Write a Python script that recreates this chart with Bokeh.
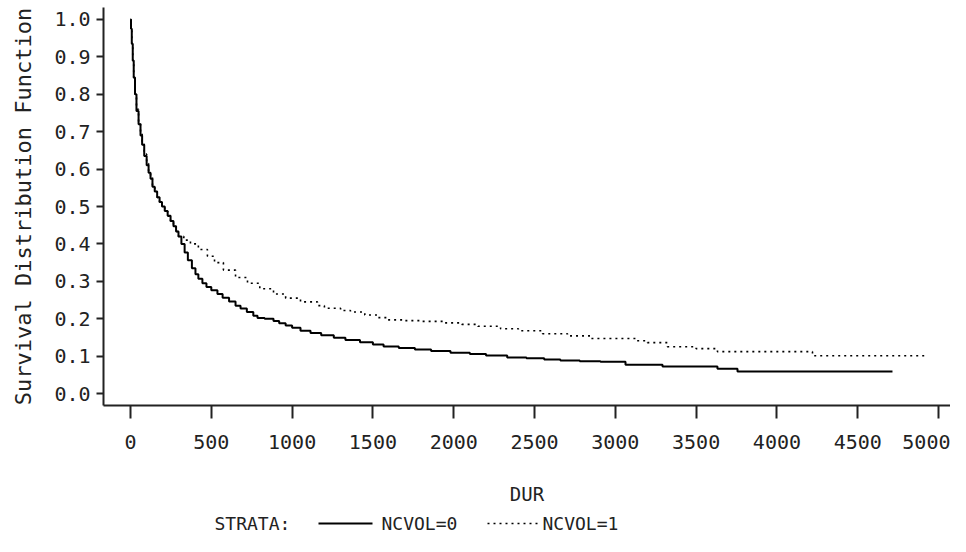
from bokeh.plotting import figure
from bokeh.models import Range1d, FixedTicker, PrintfTickFormatter, ColumnDataSource
from bokeh.layouts import column
from bokeh.core.properties import value
from bokeh.embed import file_html
from bokeh.resources import INLINE

# ---- data ----
dur0 = [0, 3, 8, 14, 20, 28, 37, 50, 62, 72,
        85, 100, 112, 124, 136, 150, 165, 180, 195, 212,
        230, 248, 266, 282, 297, 315, 335, 355, 380, 402,
        420, 445, 470, 500, 538, 570, 610, 650, 681, 720,
        760, 786, 830, 885, 920, 960, 1000, 1052, 1114, 1180,
        1258, 1330, 1420, 1500, 1566, 1660, 1760, 1860, 1980, 2100,
        2200, 2331, 2450, 2560, 2660, 2780, 2908, 3063, 3292, 3632,
        3756, 4715]
surv0 = [1.0, 0.975, 0.935, 0.89, 0.845, 0.80, 0.755, 0.72, 0.69, 0.665,
         0.635, 0.61, 0.59, 0.574, 0.553, 0.54, 0.525, 0.512, 0.50, 0.488,
         0.475, 0.461, 0.447, 0.433, 0.42, 0.40, 0.377, 0.356, 0.335, 0.319,
         0.307, 0.295, 0.285, 0.276, 0.266, 0.256, 0.246, 0.235, 0.227, 0.218,
         0.208, 0.202, 0.2, 0.194, 0.188, 0.182, 0.176, 0.168, 0.162, 0.156,
         0.149, 0.143, 0.137, 0.131, 0.126, 0.122, 0.118, 0.114, 0.109, 0.106,
         0.102, 0.096, 0.094, 0.091, 0.088, 0.086, 0.085, 0.077, 0.072, 0.066,
         0.059, 0.059]

dur1 = [0, 3, 8, 14, 20, 28, 37, 50, 62, 72,
        85, 100, 112, 124, 136, 150, 165, 180, 195, 212,
        230, 248, 266, 282, 297, 330, 371, 420, 476, 520,
        575, 650, 724, 800, 885, 960, 1052, 1157, 1200, 1300,
        1361, 1450, 1530, 1590, 1700, 1800, 1937, 2050, 2150, 2290,
        2400, 2550, 2704, 2850, 3125, 3199, 3322, 3500, 3632, 4220,
        4920]
surv1 = [1.0, 0.97, 0.93, 0.885, 0.84, 0.80, 0.76, 0.725, 0.695, 0.67,
         0.64, 0.615, 0.595, 0.578, 0.556, 0.54, 0.524, 0.511, 0.50, 0.487,
         0.474, 0.46, 0.447, 0.433, 0.42, 0.41, 0.40, 0.385, 0.367, 0.35,
         0.33, 0.31, 0.295, 0.28, 0.266, 0.255, 0.245, 0.235, 0.228, 0.222,
         0.218, 0.21, 0.203, 0.197, 0.195, 0.193, 0.189, 0.185, 0.18, 0.173,
         0.168, 0.16, 0.154, 0.147, 0.141, 0.136, 0.125, 0.12, 0.112, 0.101,
         0.101]

x_ticks = [0, 500, 1000, 1500, 2000, 2500, 3000, 3500, 4000, 4500, 5000]
y_ticks = [0.0, 0.1, 0.2, 0.3, 0.4, 0.5, 0.6, 0.7, 0.8, 0.9, 1.0]
strata_names = ["NCVOL=0", "NCVOL=1"]
strata_title = "STRATA:"
x_title = "DUR"
y_title = "Survival Distribution Function"

FONT = "DejaVu Sans Mono"
INK = "#222222"

# ---- main plot ----
p = figure(width=950, height=510, output_backend="svg", toolbar_location=None,
           x_range=Range1d(-167, 5074), y_range=Range1d(-0.032, 1.032),
           min_border_left=103, min_border_right=0, min_border_top=7,
           min_border_bottom=105, x_axis_label=x_title, y_axis_label=y_title)
p.outline_line_color = None
p.xgrid.visible = False
p.ygrid.visible = False

xa = p.xaxis[0]
ya = p.yaxis[0]
xa.ticker = FixedTicker(ticks=x_ticks)
ya.ticker = FixedTicker(ticks=y_ticks)
ya.formatter = PrintfTickFormatter(format="%.1f")
for ax in (xa, ya):
    ax.axis_line_width = 2
    ax.axis_line_color = INK
    ax.major_tick_line_width = 2
    ax.major_tick_line_color = INK
    ax.major_tick_in = 0
    ax.minor_tick_line_color = None
    ax.major_label_text_font = FONT
    ax.major_label_text_font_size = "20px"
    ax.major_label_text_color = INK
    ax.axis_label_text_font = FONT
    ax.axis_label_text_font_style = "normal"
    ax.axis_label_text_color = INK
xa.major_tick_out = 13
ya.major_tick_out = 7
xa.major_label_standoff = 16
ya.major_label_standoff = 6
xa.axis_label_text_font_size = "19px"
ya.axis_label_text_font_size = "22px"
xa.axis_label_standoff = 31
ya.axis_label_standoff = 15

src0 = ColumnDataSource(data=dict(x=dur0, y=surv0))
src1 = ColumnDataSource(data=dict(x=dur1, y=surv1))
p.step("x", "y", source=src0, mode="after", line_color="black", line_width=2)
p.step("x", "y", source=src1, mode="after", line_color="black", line_width=1.6,
       line_dash="2 4")

# ---- legend strip (its frame is aligned with the main frame: x in page pixels) ----
leg = figure(width=950, height=26, output_backend="svg", toolbar_location=None,
             x_range=Range1d(103, 950), y_range=Range1d(0, 1),
             min_border=0, x_axis_location=None, y_axis_location=None)
leg.outline_line_color = None
leg.xgrid.visible = False
leg.ygrid.visible = False
leg.text(x=[214], y=[0.5], text=[strata_title], text_font=value(FONT),
         text_font_size="18px", text_align="left", text_baseline="middle", text_color=INK)
leg.segment(x0=[318], y0=[0.5], x1=[372], y1=[0.5], line_color="black", line_width=2)
leg.text(x=[381], y=[0.5], text=[strata_names[0]], text_font=value(FONT),
         text_font_size="18px", text_align="left", text_baseline="middle", text_color=INK)
leg.segment(x0=[487], y0=[0.5], x1=[538], y1=[0.5], line_color="black", line_width=1.6,
            line_dash="2 4")
leg.text(x=[542], y=[0.5], text=[strata_names[1]], text_font=value(FONT),
         text_font_size="18px", text_align="left", text_baseline="middle", text_color=INK)

layout = column(p, leg, spacing=0)
open("out.html", "w").write(file_html(layout, INLINE))
